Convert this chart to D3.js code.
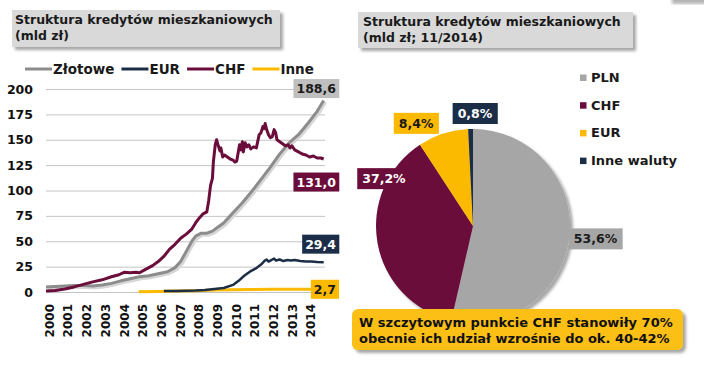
<!DOCTYPE html>
<html>
<head>
<meta charset="utf-8">
<script src="https://cdn.jsdelivr.net/npm/d3@7/dist/d3.min.js"></script>
<style>
  body { margin: 0; background: #fff; }
  svg { display: block; font-family: 'DejaVu Sans', Verdana, sans-serif; font-weight: bold; }
</style>
</head>
<body>
<div id="chart"></div>
<script>
// --- data (mld zł), decimal years ---
const zlotoweDates = [2000, 2000.5, 2001, 2001.5, 2002, 2002.5, 2003, 2003.5, 2004, 2004.5, 2005, 2005.5, 2006, 2006.5, 2006.9, 2007.2, 2007.5, 2007.8, 2008, 2008.3, 2008.6, 2008.9, 2009.2, 2009.5, 2009.8, 2010, 2010.5, 2011, 2011.5, 2012, 2012.5, 2013, 2013.5, 2014, 2014.5, 2014.85];
const zlotoweValues = [5, 5.5, 6, 6.5, 6.5, 6, 7, 8.5, 11, 13, 15, 16, 18, 20, 24, 30, 40, 50, 55, 58, 58, 60, 64, 68, 74, 78, 88, 99, 111, 123, 136, 147, 155, 166, 178, 188.6];

const chfDates = [2000, 2000.5, 2001, 2001.5, 2002, 2002.5, 2003, 2003.5, 2003.9, 2004.2, 2004.5, 2004.8, 2005, 2005.3, 2005.7, 2006, 2006.3, 2006.6, 2006.9, 2007.2, 2007.5, 2007.8, 2008, 2008.2, 2008.4, 2008.6, 2008.7, 2008.8, 2008.9, 2008.95, 2009.05, 2009.12, 2009.2, 2009.3, 2009.35, 2009.45, 2009.55, 2009.7, 2009.85, 2010, 2010.1, 2010.2, 2010.35, 2010.42, 2010.5, 2010.55, 2010.65, 2010.75, 2010.85, 2010.95, 2011.1, 2011.25, 2011.4, 2011.5, 2011.6, 2011.67, 2011.72, 2011.8, 2011.9, 2012, 2012.1, 2012.2, 2012.28, 2012.35, 2012.5, 2012.65, 2012.8, 2012.95, 2013.05, 2013.15, 2013.3, 2013.5, 2013.7, 2013.9, 2014.1, 2014.3, 2014.5, 2014.7, 2014.85];
const chfValues = [1, 1.5, 3, 5, 7.5, 10, 12, 15, 17, 19.5, 19, 19.5, 19, 22, 26, 30, 35, 42, 47, 53, 57, 62, 68, 73, 77, 79, 90, 105, 112, 128, 145, 150, 145, 139, 142, 133, 135, 133, 131, 130, 128, 129, 145, 140, 148, 138, 147, 143, 145, 141, 143, 142, 155, 157, 163, 161, 166, 160, 155, 152, 153, 160, 157, 150, 148, 146, 144, 145, 142, 144, 140, 138, 136, 135, 133, 134, 132, 132, 131];

const eurDates = [2006.3, 2007, 2008, 2008.5, 2009, 2009.5, 2010, 2010.3, 2010.6, 2010.9, 2011.2, 2011.5, 2011.7, 2011.8, 2011.9, 2012, 2012.2, 2012.3, 2012.5, 2012.7, 2012.9, 2013.1, 2013.3, 2013.6, 2013.9, 2014.2, 2014.5, 2014.85];
const eurValues = [1, 1, 1.5, 2, 3, 4, 7, 11, 16, 20, 23, 27, 31, 32, 30, 31, 33, 31, 32, 30.5, 31.5, 31, 31.5, 30.5, 30, 30, 29.5, 29.4];

const inneDates = [2004.95, 2006, 2007, 2008, 2009, 2010, 2011, 2012, 2013, 2014.85];
const inneValues = [0.3, 0.6, 1, 1.3, 2, 2.2, 2.5, 2.6, 2.6, 2.7];

const yearLabels = ['2000', '2001', '2002', '2003', '2004', '2005', '2006', '2007', '2008', '2009', '2010', '2011', '2012', '2013', '2014'];
const yTicks = [0, 25, 50, 75, 100, 125, 150, 175, 200];

const pieNames = ['PLN', 'CHF', 'EUR', 'Inne waluty'];
const pieShares = [53.6, 37.2, 8.4, 0.8];

const leftTitle = ['Struktura kredytów mieszkaniowych', '(mld zł)'];
const rightTitle = ['Struktura kredytów mieszkaniowych', '(mld zł; 11/2014)'];
const noteLines = ['W szczytowym punkcie CHF stanowiły 70%', 'obecnie ich udział wzrośnie do ok. 40-42%'];

// --- styling / layout ---
const colors = { zl: '#8c8c8c', chf: '#6b0d3a', eur: '#1c2e47', inne: '#fbb900' };
const pieColors = ['#a6a6a6', '#6b0d3a', '#fbb900', '#1c2e47'];
const fmt = (v) => d3.format('.1f')(v).replace('.', ',');

const series = [
  { key: 'zl', name: 'Złotowe', dates: zlotoweDates, values: zlotoweValues, width: 3, labelShift: -12, ink: '#1a1a1a', box: '#bfbfbf' },
  { key: 'eur', name: 'EUR', dates: eurDates, values: eurValues, width: 2.5, labelShift: -18, ink: '#fff', box: colors.eur },
  { key: 'chf', name: 'CHF', dates: chfDates, values: chfValues, width: 3, labelShift: 23, ink: '#fff', box: colors.chf },
  { key: 'inne', name: 'Inne', dates: inneDates, values: inneValues, width: 3, labelShift: 0, ink: '#1a1a1a', box: colors.inne }
];
series.forEach((s) => {
  s.points = s.dates.map((t, i) => ({ t, v: s.values[i] }));
});

const svg = d3.select('#chart').append('svg')
    .attr('width', 704)
    .attr('height', 367);

const defs = svg.append('defs');
defs.append('filter')
    .attr('id', 'shadow')
    .attr('x', '-10%').attr('y', '-10%').attr('width', '130%').attr('height', '140%')
  .append('feDropShadow')
    .attr('dx', 3).attr('dy', 3)
    .attr('stdDeviation', 1.6)
    .attr('flood-color', '#000')
    .attr('flood-opacity', 0.35);
defs.append('filter')
    .attr('id', 'blur')
  .append('feGaussianBlur')
    .attr('stdDeviation', 1.5);

// shadow fragment in top right corner
svg.append('rect')
    .attr('x', 672).attr('y', -6)
    .attr('width', 40).attr('height', 10)
    .attr('fill', '#b5b5b5')
    .attr('filter', 'url(#blur)');

// title boxes
const titleBoxes = [
  { x: 12, y: 10, w: 268, h: 37, tx: 15, lines: leftTitle },
  { x: 358, y: 12, w: 275, h: 36, tx: 363, lines: rightTitle }
];
titleBoxes.forEach((b) => {
  svg.append('rect')
      .attr('x', b.x).attr('y', b.y)
      .attr('width', b.w).attr('height', b.h)
      .attr('fill', '#d9d9d9')
      .attr('filter', 'url(#shadow)');
  b.lines.forEach((line, i) => {
    svg.append('text')
        .attr('x', b.tx)
        .attr('y', b.y + 14 + i * 15.5)
        .style('font-size', '12.5px')
        .style('fill', '#1a1a1a')
        .text(line);
  });
});

// --- line chart ---
const x = d3.scaleLinear()
    .domain([2000, 2014.92])
    .range([46, 325]);
const y = d3.scaleLinear()
    .domain([0, 200])
    .range([292, 89]);

const yAxis = d3.axisLeft(y)
    .tickValues(yTicks)
    .tickSize(-(x.range()[1] - x.range()[0]))
    .tickPadding(13);

svg.append('g')
    .attr('class', 'y axis')
    .attr('transform', `translate(${x.range()[0]},0)`)
    .call(yAxis)
    .call((g) => g.select('.domain').remove())
    .call((g) => g.selectAll('line').attr('stroke', '#c4c4c4'))
    .call((g) => g.selectAll('text')
        .style('font-size', '12.5px')
        .style('font-family', "'DejaVu Sans', Verdana, sans-serif")
        .style('font-weight', 'bold')
        .attr('fill', '#111'));

const xAxis = d3.axisBottom(x)
    .tickValues(yearLabels.map(Number))
    .tickSize(0)
    .tickFormat(d3.format('d'));

svg.append('g')
    .attr('class', 'x axis')
    .attr('transform', `translate(0,${y(0)})`)
    .call(xAxis)
    .call((g) => g.select('.domain').remove())
    .call((g) => g.selectAll('text')
        .attr('x', -12)
        .attr('y', 0)
        .attr('dy', '0.35em')
        .attr('transform', 'translate(3,0) rotate(-90)')
        .style('text-anchor', 'end')
        .style('font-size', '12px')
        .style('font-family', "'DejaVu Sans', Verdana, sans-serif")
        .style('font-weight', 'bold')
        .attr('fill', '#111'));

const line = d3.line()
    .x((d) => x(d.t))
    .y((d) => y(d.v));

// draw order: inne, eur, zl, chf
const drawOrder = ['inne', 'eur', 'zl', 'chf'];
drawOrder.forEach((k) => {
  const s = series.find((d) => d.key === k);
  if (k === 'zl') {
    svg.append('path')
        .attr('d', line(s.points))
        .attr('transform', 'translate(1.5,1.5)')
        .attr('fill', 'none')
        .attr('stroke', '#d6d6d6')
        .attr('stroke-width', 4);
  }
  svg.append('path')
      .attr('d', line(s.points))
      .attr('fill', 'none')
      .attr('stroke', colors[k])
      .attr('stroke-width', s.width)
      .attr('stroke-linejoin', 'round');
});

// end value labels
series.forEach((s) => {
  const last = s.points[s.points.length - 1];
  const g = svg.append('g');
  const t = g.append('text')
      .attr('text-anchor', 'end')
      .attr('x', 336)
      .attr('y', y(last.v) + s.labelShift)
      .attr('dy', '0.36em')
      .style('font-size', '12.5px')
      .style('fill', s.ink)
      .text(fmt(last.v));
  const bb = t.node().getBBox();
  g.insert('rect', 'text')
      .attr('x', bb.x - 3)
      .attr('y', y(last.v) + s.labelShift - 9.5)
      .attr('width', bb.width + 6)
      .attr('height', 19)
      .attr('fill', s.box);
});

// legend (line chart)
let lx = 25;
series.forEach((s) => {
  svg.append('line')
      .attr('x1', lx).attr('x2', lx + 27)
      .attr('y1', 69).attr('y2', 69)
      .attr('stroke', colors[s.key])
      .attr('stroke-width', 3);
  const t = svg.append('text')
      .attr('x', lx + 28)
      .attr('y', 74)
      .style('font-size', '13.5px')
      .style('fill', '#1a1a1a')
      .text(s.name);
  lx += 28 + t.node().getComputedTextLength() + 7;
});

// --- pie ---
const cx = 473, cy = 226, r = 97;
const arcs = d3.pie().sort(null).value((d) => d)(pieShares);
const arc = d3.arc().innerRadius(0).outerRadius(r);

const pieG = svg.append('g')
    .attr('transform', `translate(${cx},${cy})`)
    .attr('filter', 'url(#shadow)');
pieG.selectAll('path')
    .data(arcs)
  .enter()
    .append('path')
    .attr('d', arc)
    .attr('fill', (d, i) => pieColors[i]);

// label placement: [angle in degrees clockwise from 12 o'clock, radius factor]
const labelAt = [[96, 1.27], [298, 1.04], [331, 1.21], [1, 1.16]];
const labelInk = ['#1a1a1a', '#fff', '#1a1a1a', '#fff'];
arcs.forEach((d, i) => {
  const a = labelAt[i][0] * Math.PI / 180;
  const lxp = cx + Math.sin(a) * r * labelAt[i][1];
  const lyp = cy - Math.cos(a) * r * labelAt[i][1];
  const g = svg.append('g');
  const t = g.append('text')
      .attr('x', lxp)
      .attr('y', lyp)
      .attr('dy', '0.36em')
      .attr('text-anchor', 'middle')
      .style('font-size', '12.5px')
      .style('fill', labelInk[i])
      .text(`${fmt(pieShares[i])}%`);
  const bb = t.node().getBBox();
  g.insert('rect', 'text')
      .attr('x', bb.x - 5)
      .attr('y', lyp - 10.5)
      .attr('width', bb.width + 10)
      .attr('height', 21)
      .attr('fill', pieColors[i]);
});

// pie legend
pieNames.forEach((name, i) => {
  const by = 82 + i * 27.7;
  svg.append('rect')
      .attr('x', 580).attr('y', by - 7.5)
      .attr('width', 6.5).attr('height', 6.5)
      .attr('fill', pieColors[i]);
  svg.append('text')
      .attr('x', 591)
      .attr('y', by)
      .style('font-size', '13px')
      .style('fill', '#1a1a1a')
      .text(name);
});

// callout
svg.append('rect')
    .attr('x', 352).attr('y', 309)
    .attr('width', 331).attr('height', 41)
    .attr('rx', 6)
    .attr('fill', '#fcbf12')
    .attr('filter', 'url(#shadow)');
noteLines.forEach((txt, i) => {
  svg.append('text')
      .attr('x', 359)
      .attr('y', 327 + i * 16)
      .style('font-size', '13px')
      .style('fill', '#111')
      .text(txt);
});
</script>
</body>
</html>
